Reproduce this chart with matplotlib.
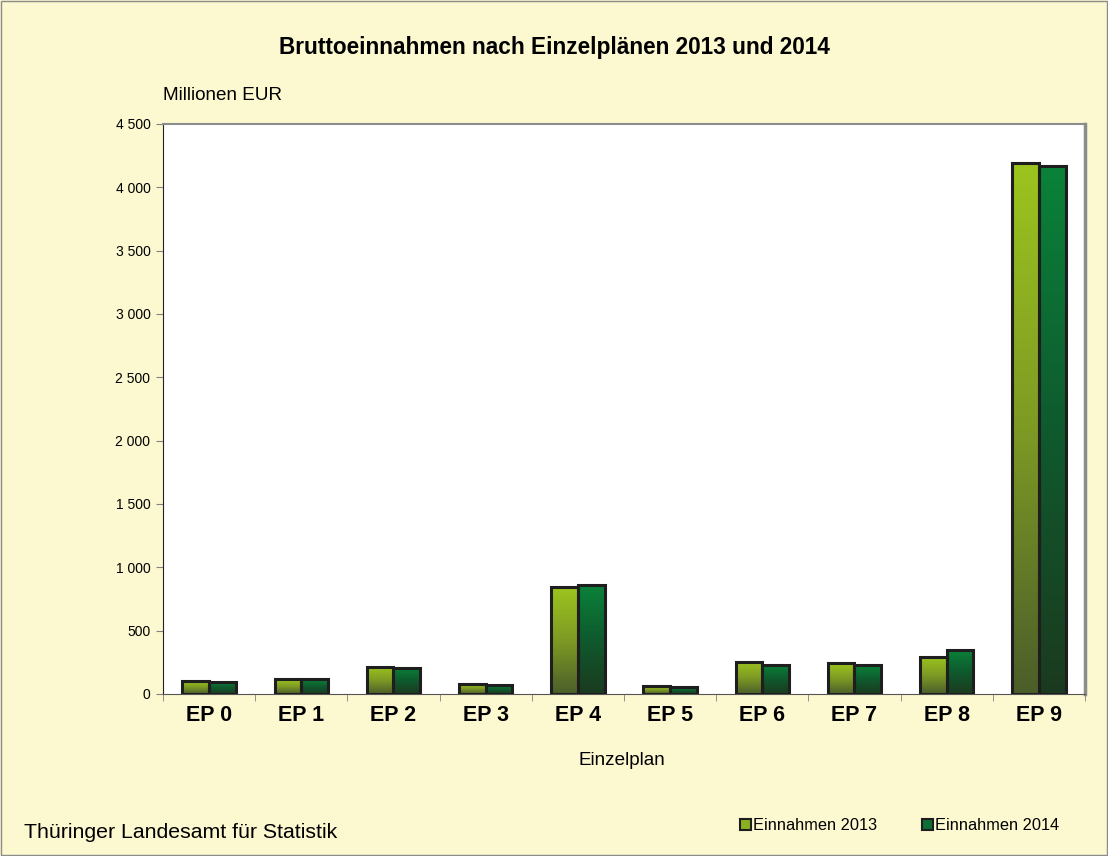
import numpy as np
import matplotlib.pyplot as plt
from matplotlib.colors import LinearSegmentedColormap
from matplotlib.patches import Rectangle
from matplotlib.ticker import FuncFormatter, FixedLocator

plt.rcParams['font.family'] = ['Liberation Sans', 'DejaVu Sans']

plans = ["EP 0", "EP 1", "EP 2", "EP 3", "EP 4", "EP 5", "EP 6", "EP 7", "EP 8", "EP 9"]
ein_2013 = [103, 118, 214, 80, 843, 60, 253, 243, 293, 4192]
ein_2014 = [95, 118, 208, 67, 860, 55, 230, 228, 350, 4168]

bg = "#FCF8CF"
cm13 = LinearSegmentedColormap.from_list("c13", ["#4B5E2A", "#7E9A24", "#9CC41E"])
cm14 = LinearSegmentedColormap.from_list("c14", ["#1B3A1F", "#0F5A2E", "#0A8239"])

fig = plt.figure(figsize=(11.08, 8.56), dpi=100, facecolor=bg)
fig.patches.append(Rectangle((0.001, 0.001), 0.998, 0.998, transform=fig.transFigure,
                             fill=False, edgecolor="#8C8C8C", lw=1))
ax = fig.add_axes([0.1471, 0.1893, 0.8321, 0.6659])
ax.set_facecolor("white")

x = np.arange(len(plans))
w = 0.29
grad = np.linspace(0, 1, 256).reshape(-1, 1)


def gradient_bars(xs, vals, cmap):
    bars = ax.bar(xs, vals, w, facecolor="none", edgecolor="#1E1E1E", lw=2.2, zorder=3)
    for b in bars:
        im = ax.imshow(grad, cmap=cmap, origin="lower", aspect="auto",
                       extent=[b.get_x(), b.get_x() + b.get_width(), 0, b.get_height()],
                       zorder=2)
        im.set_clip_path(b)
    return bars


gradient_bars(x - w / 2, ein_2013, cm13)
gradient_bars(x + w / 2, ein_2014, cm14)

ax.set_xlim(-0.5, len(plans) - 0.5)
ax.set_ylim(0, 4500)
ax.set_yticks(range(0, 4501, 500))
ax.yaxis.set_major_formatter(FuncFormatter(lambda v, p: f"{int(v):,}".replace(",", " ")))
ax.set_xticks(x)
ax.set_xticklabels(plans, fontsize=15.5, fontweight="bold")
ax.xaxis.set_minor_locator(FixedLocator(np.arange(-0.5, len(plans), 1)))
ax.tick_params(axis="x", which="major", length=0, pad=8)
ax.tick_params(axis="x", which="minor", length=5, color="#808080")
ax.tick_params(axis="y", labelsize=10, length=5, color="#808080", pad=4)

for s in ["top", "right"]:
    ax.spines[s].set_color("#8C8C8C")
    ax.spines[s].set_linewidth(1.5)
ax.spines["right"].set_linewidth(2.5)
ax.spines["left"].set_color("#222222")
ax.spines["bottom"].set_color("#555555")

fig.text(0.5, 0.945, "Bruttoeinnahmen nach Einzelplänen 2013 und 2014",
         ha="center", va="center", fontsize=16.3, fontweight="bold")
fig.text(0.147, 0.889, "Millionen EUR", ha="left", va="center", fontsize=13.6)
fig.text(0.561, 0.112, "Einzelplan", ha="center", va="center", fontsize=13.6)
fig.text(0.022, 0.028, "Thüringer Landesamt für Statistik", ha="left", va="center", fontsize=15.3)

leg = [(740, "Einnahmen 2013", "#8DB021"), (922, "Einnahmen 2014", "#0E6E33")]
for lx, lab, col in leg:
    fig.patches.append(Rectangle((lx / 1108, 1 - 830 / 856), 11 / 1108, 11 / 856,
                                 transform=fig.transFigure,
                                 facecolor=col, edgecolor="#1E1E1E", lw=1.5))
    fig.text((lx + 13) / 1108, 1 - 825 / 856, lab, ha="left", va="center", fontsize=11.8)

fig.savefig("out.png", dpi=100, facecolor=bg)
